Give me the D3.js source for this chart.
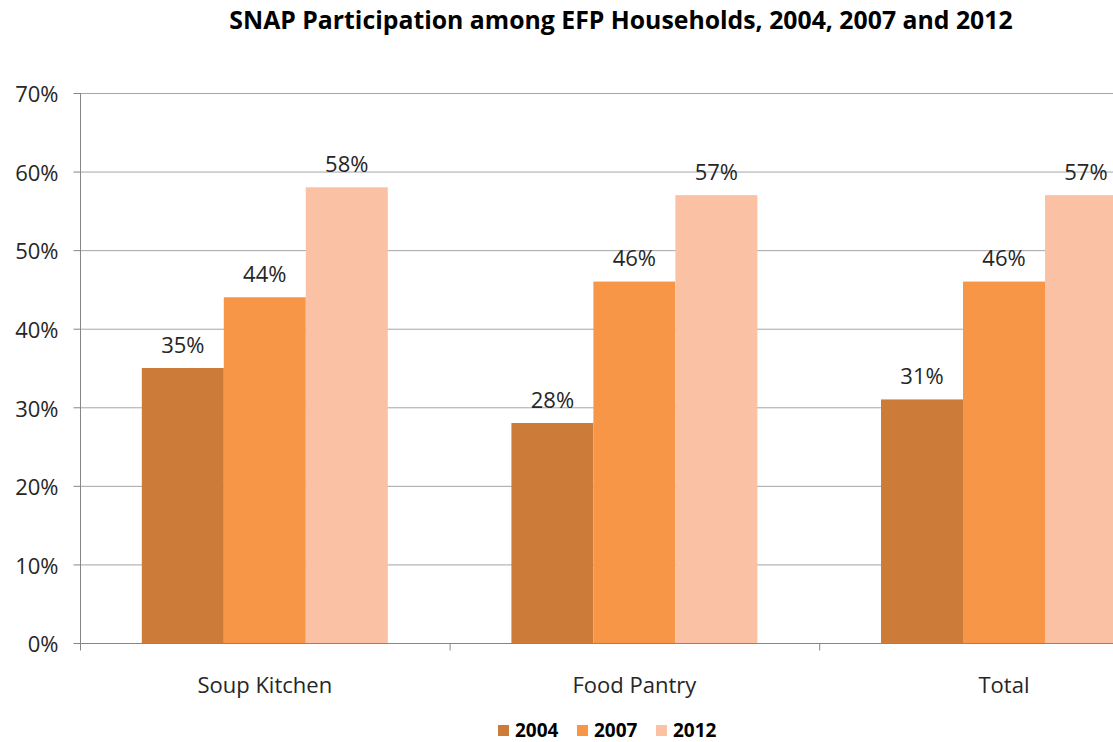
<!DOCTYPE html>
<html>
<head>
<meta charset="utf-8">
<script src="https://cdn.jsdelivr.net/npm/d3@7"></script>
<style>
  body { margin: 0; background: #fff; }
  svg { display: block; font-family: "Open Sans", "DejaVu Sans", sans-serif; }
</style>
</head>
<body>
<svg id="chart" width="1113" height="742"></svg>
<script>
// chart data
const categories = ['Soup Kitchen', 'Food Pantry', 'Total'];
const years = ['2004', '2007', '2012'];
const values2004 = [35, 28, 31];
const values2007 = [44, 46, 46];
const values2012 = [58, 57, 57];
const yTicks = [0, 10, 20, 30, 40, 50, 60, 70];
const colors = ['#cc7b38', '#f79646', '#fac1a5'];

(() => {
  const seriesValues = [values2004, values2007, values2012];
  const data = categories.map((c, i) => ({
    category: c,
    values: years.map((yr, j) => ({year: yr, value: seriesValues[j][i]}))
  }));

  const svg = d3.select('#chart');
  const plotLeft = 80, plotTop = 93, plotBottom = 643;
  const band = 369.6;

  const x0 = d3.scaleBand()
      .domain(categories)
      .range([plotLeft, plotLeft + band * categories.length])
      .padding(0);

  const x1 = d3.scaleBand()
      .domain(years)
      .range([0, x0.bandwidth()])
      .paddingInner(0)
      .paddingOuter(0.754);

  const y = d3.scaleLinear()
      .domain([0, 70])
      .range([plotBottom, plotTop]);

  const color = d3.scaleOrdinal().domain(years).range(colors);

  // title
  svg.append('text')
      .attr('x', 621)
      .attr('y', 29)
      .attr('text-anchor', 'middle')
      .attr('font-size', 24.8)
      .attr('font-weight', 'bold')
      .attr('fill', '#000')
      .text('SNAP Participation among EFP Households, 2004, 2007 and 2012');

  // gridlines
  svg.append('g')
      .selectAll('line')
      .data(yTicks.slice(1))
      .enter().append('line')
      .attr('x1', plotLeft)
      .attr('x2', 1113)
      .attr('y1', d => y(d) + 0.5)
      .attr('y2', d => y(d) + 0.5)
      .attr('stroke', '#a6a6a6')
      .attr('stroke-width', 1);

  // bars
  const groups = svg.append('g')
      .selectAll('g')
      .data(data)
      .enter().append('g')
      .attr('transform', d => `translate(${x0(d.category)},0)`);

  groups.selectAll('rect')
      .data(d => d.values)
      .enter().append('rect')
      .attr('x', d => x1(d.year))
      .attr('y', d => y(d.value))
      .attr('width', x1.bandwidth())
      .attr('height', d => y(0) - y(d.value))
      .attr('fill', d => color(d.year));

  groups.selectAll('text')
      .data(d => d.values)
      .enter().append('text')
      .attr('x', d => x1(d.year) + x1.bandwidth() / 2)
      .attr('y', d => y(d.value) - 15.5)
      .attr('text-anchor', 'middle')
      .attr('font-size', 22)
      .attr('fill', '#262626')
      .text(d => d.value + '%');

  // y axis
  const yAxis = svg.append('g')
      .attr('transform', `translate(${plotLeft + 0.5},0)`)
      .call(d3.axisLeft(y)
          .tickValues(yTicks)
          .tickSize(7)
          .tickPadding(15)
          .tickFormat(d => d + '%'));
  yAxis.select('.domain').attr('stroke', '#868686').attr('d', `M0,${plotTop}V${plotBottom}`);
  yAxis.selectAll('.tick line').attr('stroke', '#868686');
  yAxis.selectAll('.tick text')
      .attr('font-size', 22)
      .attr('dy', '0.4em')
      .attr('fill', '#262626')
      .attr('font-family', '"Open Sans", sans-serif');

  // x axis
  const xAxis = svg.append('g')
      .attr('transform', `translate(0,${plotBottom + 0.5})`);
  xAxis.append('line')
      .attr('x1', plotLeft)
      .attr('x2', 1113)
      .attr('stroke', '#868686');
  xAxis.selectAll('line.tick')
      .data(categories)
      .enter().append('line')
      .attr('class', 'tick')
      .attr('x1', d => x0(d) + 0.5)
      .attr('x2', d => x0(d) + 0.5)
      .attr('y1', 0)
      .attr('y2', 7)
      .attr('stroke', '#868686');
  xAxis.selectAll('text')
      .data(categories)
      .enter().append('text')
      .attr('x', d => x0(d) + x0.bandwidth() / 2)
      .attr('y', 49.5)
      .attr('text-anchor', 'middle')
      .attr('font-size', 22)
      .attr('fill', '#262626')
      .text(d => d);

  // legend
  const legendX = [498, 577, 656];
  const legend = svg.append('g')
      .selectAll('g')
      .data(years)
      .enter().append('g')
      .attr('transform', (d, i) => `translate(${legendX[i]},725)`);

  legend.append('rect')
      .attr('width', 11)
      .attr('height', 11)
      .attr('fill', d => color(d));

  legend.append('text')
      .attr('x', 17)
      .attr('y', 12)
      .attr('font-size', 19)
      .attr('font-weight', 'bold')
      .attr('fill', '#000')
      .text(d => d);
})();
</script>
</body>
</html>
